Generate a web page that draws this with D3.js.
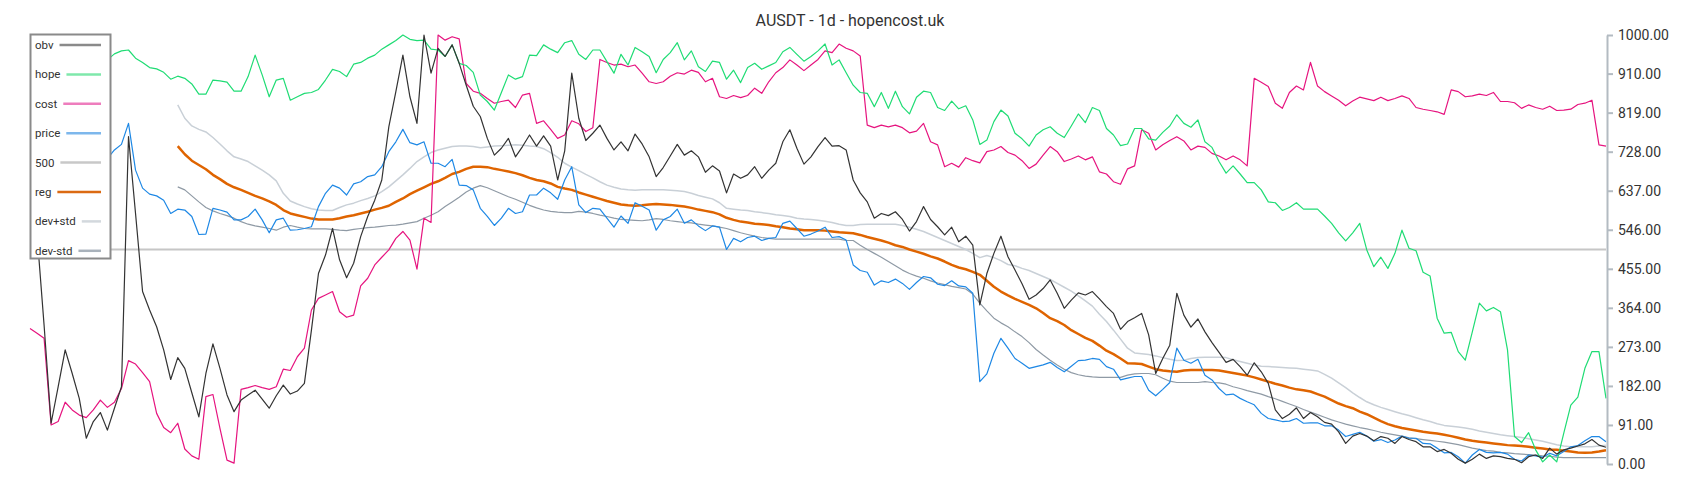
<!DOCTYPE html>
<html>
<head>
<meta charset="UTF-8">
<title>AUSDT - 1d - hopencost.uk</title>
<script src="https://cdn.jsdelivr.net/npm/d3@7/dist/d3.min.js"></script>
<style type="text/css">
body, html {
    margin: 0;
    padding: 0;
    background: #fff;
}

.title {
    font: 16px Roboto, sans-serif;
    fill: #333;
}

.axis text {
    font: 14px Roboto, sans-serif;
    fill: #333;
}

.axis path, .axis line {
    fill: none;
    stroke: #b3bbc2;
    stroke-width: 2;
}

.legend text {
    font: 11.5px Roboto, sans-serif;
    fill: #333;
}
</style>
</head>
<body>

<div class="chart"></div>

<script type="text/javascript">
// right axis labels
var tickLabels = [0, 91, 182, 273, 364, 455, 546, 637, 728, 819, 910, 1000];
var level500 = 500;

// each series starts at a bar index (earlier bars sit behind the legend)
var costStart = 0;
var cost = [
    316,305,293,91,99,144,126,114,108,126,
    149,132,144,176,241,233,213,192,118,85,
    73,95,35,19,11,157,162,83,9,2,
    174,178,183,178,174,180,221,218,250,270,
    359,386,394,402,355,342,347,415,433,464,
    482,499,526,542,522,454,573,563,1000,988,
    996,991,887,869,864,852,841,845,848,831,
    860,864,794,800,780,759,767,800,793,775,
    784,943,936,930,932,926,930,911,891,887,
    891,904,912,909,918,913,891,899,856,852,
    859,854,859,876,864,891,912,924,942,930,
    917,930,943,963,959,979,969,963,951,790,
    784,790,786,790,784,772,776,794,751,744,
    693,701,692,714,707,702,728,732,740,726,
    720,707,689,699,720,740,728,705,711,718,
    709,716,681,676,658,652,688,695,779,771,
    732,744,754,763,753,732,741,738,724,718,
    709,718,709,695,899,890,880,841,829,866,
    881,872,936,881,868,858,848,835,846,855,
    851,847,855,847,852,858,852,831,827,824,
    821,815,872,868,856,858,862,859,866,845,
    845,842,829,837,831,827,834,824,825,827,
    838,841,848,744,741
];

var obvStart = 1;
var obv = [
    536,324,95,180,266,211,153,60,99,120,
    79,130,180,763,584,402,359,320,266,197,
    248,223,166,110,211,280,223,161,122,149,
    161,172,151,130,159,184,163,170,188,312,
    444,487,549,476,434,468,530,577,615,662,
    786,868,953,856,794,1000,911,969,950,977,
    934,883,834,810,759,720,736,759,716,740,
    767,741,765,741,662,730,911,806,754,771,
    790,759,732,751,730,769,746,716,670,691,
    718,745,720,730,716,680,695,683,632,676,
    666,674,693,666,685,701,751,779,736,699,
    716,740,761,741,742,732,662,632,611,573,
    584,579,588,570,543,565,600,570,553,534,
    552,518,531,510,371,444,491,531,483,452,
    420,384,394,409,429,398,363,382,399,394,
    402,385,367,351,314,332,341,351,301,211,
    246,277,398,347,319,338,308,283,260,237,
    244,227,207,236,215,188,126,106,116,131,
    106,120,110,97,93,75,48,65,71,65,
    54,64,60,48,64,57,52,40,40,29,
    34,25,11,2,11,23,13,19,17,13,
    11,3,17,21,13,37,23,33,37,42,
    47,57,44,39
];

var hopeStart = 11;
var hope = [
    942,956,963,965,946,936,924,921,913,897,
    904,899,886,862,862,895,893,890,869,869,
    903,953,907,856,895,899,848,856,864,866,
    873,895,920,915,903,932,936,946,953,967,
    977,987,1000,990,987,988,967,965,950,977,
    934,929,913,860,845,825,866,907,897,903,
    953,952,977,967,959,982,987,955,943,965,
    965,938,911,955,930,971,961,950,912,943,
    959,982,942,963,926,915,939,936,897,918,
    889,924,934,920,928,936,961,971,955,939,
    950,963,979,930,942,912,883,866,864,833,
    866,829,869,833,816,855,869,866,831,824,
    846,828,835,802,745,755,798,825,811,771,
    758,741,767,779,786,771,761,788,816,796,
    831,824,782,767,742,746,782,782,758,755,
    773,788,814,794,785,802,751,738,705,678,
    695,676,656,656,639,611,609,591,598,609,
    594,594,594,578,561,539,520,539,561,499,
    460,482,456,491,545,503,497,447,438,340,
    305,307,262,242,308,375,357,365,355,266,
    64,50,73,33,5,21,5,72,137,156,
    223,262,262,153
];

var priceStart = 11;
var price = [
    712,732,745,794,685,643,629,625,615,584,
    594,592,577,535,536,596,592,587,569,569,
    577,594,569,539,569,573,545,546,549,553,
    600,631,650,643,627,653,658,670,674,693,
    728,751,780,749,744,751,701,701,693,710,
    650,649,639,596,577,556,573,596,584,588,
    627,627,643,632,617,662,693,604,586,596,
    594,573,552,578,561,609,601,592,545,569,
    577,594,561,569,555,544,555,552,500,526,
    518,528,531,521,526,528,561,566,549,531,
    536,543,552,528,530,522,464,451,447,417,
    427,423,431,421,407,423,437,434,419,416,
    427,415,413,398,192,210,258,293,270,246,
    235,223,227,231,237,225,215,228,241,242,
    246,244,227,221,196,200,204,204,172,159,
    174,190,270,242,235,244,207,196,176,161,
    163,153,145,138,118,106,103,99,100,106,
    95,96,96,89,89,79,64,69,74,65,
    53,57,50,56,65,60,60,48,47,37,
    26,27,17,2,21,34,27,26,27,23,
    11,7,21,19,16,25,19,29,40,43,
    54,64,64,52
];

// regression and its bands
var bandStart = 21;
var reg = [
    741,722,707,697,687,674,664,653,645,639,
    632,625,619,612,604,592,584,580,576,572,
    570,570,570,573,577,580,584,588,593,597,
    602,611,619,629,637,645,653,659,667,676,
    681,688,693,693,692,688,685,682,678,673,
    667,662,659,654,646,642,639,633,628,623,
    618,613,609,605,603,602,603,605,606,605,
    604,602,600,597,593,590,587,582,574,569,
    565,563,560,559,557,554,552,549,547,545,
    545,545,544,542,540,539,538,534,529,525,
    521,516,510,506,500,495,490,484,479,472,
    464,458,454,448,441,427,413,402,393,385,
    378,371,363,352,340,333,324,312,303,294,
    287,276,264,256,246,235,234,233,227,221,
    218,216,215,218,219,219,219,219,218,215,
    212,209,206,202,197,192,187,183,178,174,
    172,169,163,157,149,141,135,130,122,116,
    108,100,93,88,84,81,78,75,73,71,
    68,65,61,57,54,52,50,48,46,44,
    43,42,40,38,36,34,33,31,29,27,
    26,27,29,32
];

var devPlus = [
    837,806,788,780,774,761,746,730,716,711,
    705,695,685,674,660,631,613,606,600,595,
    592,591,591,598,604,608,614,619,625,635,
    646,660,674,689,705,716,726,732,736,740,
    741,741,740,737,739,741,742,743,744,743,
    741,740,735,726,715,701,692,684,675,667,
    658,650,645,641,639,638,639,639,639,639,
    638,637,635,631,626,622,618,609,596,594,
    592,591,588,586,584,581,579,577,573,571,
    570,568,566,563,559,556,556,558,559,559,
    559,559,559,556,552,547,542,535,528,521,
    514,507,500,491,481,486,481,474,465,462,
    456,451,444,437,430,421,412,403,392,380,
    368,349,332,312,291,270,259,257,255,252,
    248,244,241,242,246,248,249,249,249,248,
    243,239,235,231,228,227,226,225,224,223,
    221,219,217,209,200,189,178,166,155,145,
    138,132,127,122,117,113,108,103,99,94,
    90,88,86,84,81,77,74,71,68,66,
    64,62,59,56,53,49,45,42,40,40,
    40,40,42,44
];

var devMinus = [
    646,639,625,611,598,590,584,579,573,565,
    559,555,552,549,545,552,556,552,549,548,
    548,548,547,545,544,547,549,551,552,554,
    556,557,559,562,565,573,580,588,600,611,
    622,634,643,649,644,637,630,623,617,610,
    603,597,592,589,587,586,586,589,587,584,
    580,577,573,570,569,568,567,569,572,570,
    567,565,563,562,559,557,555,552,549,544,
    539,535,531,528,526,524,524,524,524,524,
    524,524,524,524,524,521,521,510,500,491,
    482,472,462,452,444,438,433,427,422,418,
    414,411,408,396,375,357,340,329,320,308,
    297,283,267,254,242,231,221,213,208,205,
    203,202,202,202,202,207,210,211,211,208,
    200,193,190,190,190,190,192,190,189,186,
    180,176,171,167,163,157,152,146,140,134,
    127,121,115,109,103,98,93,89,85,82,
    78,74,71,68,65,61,59,57,55,53,
    51,48,45,41,37,34,31,30,27,26,
    24,23,22,21,19,18,16,15,15,15,
    15,15,15,15
];

var legendNames = ["obv", "hope", "cost", "price", "500", "reg", "dev+std", "dev-std"];

var width  = 1700,
    height = 500,
    x      = d3.scaleLinear().domain([0, cost.length - 1]).range([30, 1606]),
    y      = d3.scaleLinear().domain([0, 1000]).range([464, 35]);

var svg = d3.select(".chart")
    .append("svg")
    .attr("width", width)
    .attr("height", height);

function drawSeries(values, start, color, w)
{
    var line = d3.line()
        .x(function (d, i) { return x(start + i); })
        .y(function (d) { return y(d); });

    svg.append("path")
        .datum(values)
        .attr("fill", "none")
        .attr("stroke", color)
        .attr("stroke-width", w)
        .attr("stroke-linejoin", "round")
        .attr("d", line);
}

// 500 level
svg.append("line")
    .attr("x1", x(0))
    .attr("x2", x(cost.length - 1))
    .attr("y1", y(level500))
    .attr("y2", y(level500))
    .attr("stroke", "#c6c6c6")
    .attr("stroke-width", 2);

drawSeries(devPlus, bandStart, "#c9d0d7", 1.5);
drawSeries(devMinus, bandStart, "#8f9aa5", 1.2);
drawSeries(reg, bandStart, "#df6400", 2.5);
drawSeries(price, priceStart, "#1e88e5", 1.2);
drawSeries(cost, costStart, "#e6147f", 1.2);
drawSeries(hope, hopeStart, "#1fdc74", 1.2);
drawSeries(obv, obvStart, "#333333", 1.2);

//right axis
var yAxis = d3.axisRight(y)
    .tickValues(tickLabels)
    .tickFormat(d3.format(".2f"))
    .tickSize(6)
    .tickSizeOuter(0)
    .tickPadding(5);

svg.append("g")
    .attr("class", "axis")
    .attr("transform", "translate(1607,0)")
    .call(yAxis);

svg.append("text")
    .attr("class", "title")
    .attr("x", 850)
    .attr("y", 26)
    .attr("text-anchor", "middle")
    .text("AUSDT - 1d - hopencost.uk");

// legend box
var swatch = ["#8a8a8a", "#7fe8ab", "#ee7dbd", "#7db7ec", "#c8c8c8", "#db6a12", "#d3d8dd", "#a9b2bb"];

var legend = svg.append("g").attr("class", "legend");

legend.append("rect")
    .attr("x", 30.5)
    .attr("y", 34.5)
    .attr("width", 80)
    .attr("height", 224)
    .attr("fill", "#fff")
    .attr("stroke", "#8a8a8a")
    .attr("stroke-width", 2);

var rows = legend.selectAll("g.row")
    .data(legendNames)
    .enter()
    .append("g")
    .attr("class", "row")
    .attr("transform", function (d, i) { return "translate(35," + (45 + i * 29.4) + ")"; });

rows.append("text")
    .attr("dy", "0.35em")
    .text(function (d) { return d; });

rows.append("line")
    .attr("x1", function () { return this.parentNode.querySelector("text").getComputedTextLength() + 6; })
    .attr("x2", 66)
    .attr("stroke", function (d, i) { return swatch[i]; })
    .attr("stroke-width", 2.5);
</script>
</body>
</html>
